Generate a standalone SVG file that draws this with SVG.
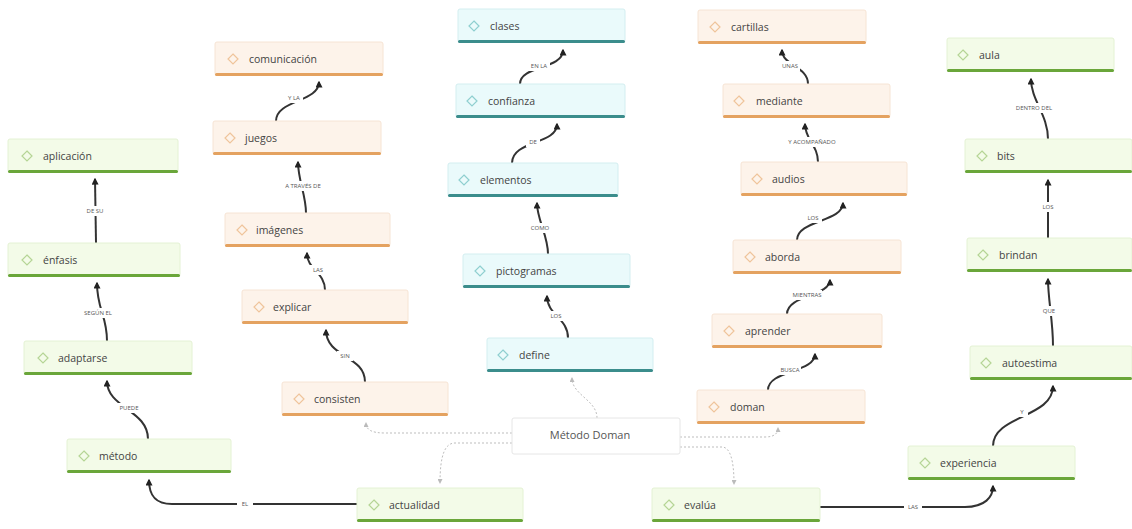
<svg xmlns="http://www.w3.org/2000/svg" width="1132" height="529" viewBox="0 0 1132 529">
<style>
.bg{fill:#ffffff}
.g rect.b{fill:#f3fbe8;stroke:#e4f2d4;stroke-width:1}
.g rect.bar{fill:#6aa63a}
.g polygon{fill:none;stroke:#b5d595;stroke-width:1.2}
.o rect.b{fill:#fdf3ea;stroke:#f6e4d4;stroke-width:1}
.o rect.bar{fill:#e4a260}
.o polygon{fill:none;stroke:#efc49b;stroke-width:1.2}
.t rect.b{fill:#eafafb;stroke:#d3eef0;stroke-width:1}
.t rect.bar{fill:#3b8d8c}
.t polygon{fill:none;stroke:#8fcfd0;stroke-width:1.2}
.n text{font-family:"Open Sans","Liberation Sans",sans-serif;font-size:10.5px;fill:#444}
.c{fill:none;stroke:#333;stroke-width:2;marker-end:url(#ah)}
.d{fill:none;stroke:#bdbdbd;stroke-width:1;stroke-dasharray:2 2;marker-end:url(#ad)}
.lb{fill:#ffffff}
.lt{font-family:"Open Sans","Liberation Sans",sans-serif;font-size:6px;fill:#555;text-anchor:middle}
.root rect{fill:#ffffff;stroke:#e6e6e6;stroke-width:1}
.root text{font-family:"Open Sans","Liberation Sans",sans-serif;font-size:11px;fill:#555;text-anchor:middle}
</style>
<defs>
<marker id="ah" viewBox="0 0 10 10" refX="8" refY="5" markerWidth="7" markerHeight="7" markerUnits="userSpaceOnUse" orient="auto">
<path d="M0,0 L10,5 L0,10 z" fill="#222"/>
</marker>
<marker id="ad" viewBox="0 0 10 10" refX="8" refY="5" markerWidth="5" markerHeight="5" markerUnits="userSpaceOnUse" orient="auto">
<path d="M0,0 L10,5 L0,10 z" fill="#bbb"/>
</marker>
</defs>
<rect class="bg" x="0" y="0" width="1132" height="529"/>

<g id="connectors">
<path class="d" d="M512,433 H385 C372,433 366,430 366,423"/>
<path class="d" d="M512,443 H455 C445,443 440,455 440,483"/>
<path class="d" d="M597,418 C597,400 572,395 572,378"/>
<path class="d" d="M680,437 H765 C775,437 778,433 778,428"/>
<path class="d" d="M680,447 H722 C730,447 734,460 734,484"/>

<path class="c" d="M357,504 H172 C155,504 149,495 149,480"/>
<path class="c" d="M148,439 C148,410 107,408 107,381"/>
<path class="c" d="M107,341 C107,315 97,310 97,283"/>
<path class="c" d="M96,243 L95,179"/>
<path class="c" d="M365,382 C365,355 326,358 326,330"/>
<path class="c" d="M325,290 C325,272 307,270 307,253"/>
<path class="c" d="M306,213 C306,195 298,180 298,162"/>
<path class="c" d="M276,121 C276,100 319,102 319,82"/>
<path class="c" d="M568,338 C568,318 547,315 547,296"/>
<path class="c" d="M548,254 C548,235 537,220 537,203"/>
<path class="c" d="M512,163 C512,140 557,145 557,124"/>
<path class="c" d="M520,84 C520,65 563,70 563,50"/>
<path class="c" d="M768,390 C768,370 815,373 815,354"/>
<path class="c" d="M787,314 C787,295 830,296 830,280"/>
<path class="c" d="M797,240 C797,220 843,222 843,203"/>
<path class="c" d="M818,162 C818,145 805,140 805,124"/>
<path class="c" d="M808,84 C808,66 782,66 782,50"/>
<path class="c" d="M820,507 H965 C985,507 993,497 993,486"/>
<path class="c" d="M993,446 C993,415 1053,418 1053,386"/>
<path class="c" d="M1053,346 C1053,320 1048,300 1048,279"/>
<path class="c" d="M1048,238 L1048,180"/>
<path class="c" d="M1048,139 C1048,115 1031,100 1031,79"/>

<rect class="lb" x="237" y="499" width="16" height="10"/><text class="lt" x="245" y="506">EL</text>
<rect class="lb" x="117" y="403" width="24" height="10"/><text class="lt" x="129" y="410">PUEDE</text>
<rect class="lb" x="84" y="308" width="28" height="10"/><text class="lt" x="98" y="315">SEGÚN EL</text>
<rect class="lb" x="84" y="206" width="22" height="10"/><text class="lt" x="95" y="213">DE SU</text>
<rect class="lb" x="337" y="351" width="16" height="10"/><text class="lt" x="345" y="358">SIN</text>
<rect class="lb" x="309" y="265" width="18" height="10"/><text class="lt" x="318" y="272">LAS</text>
<rect class="lb" x="284" y="181" width="38" height="10"/><text class="lt" x="303" y="188">A TRAVÉS DE</text>
<rect class="lb" x="285" y="93" width="18" height="10"/><text class="lt" x="294" y="100">Y LA</text>
<rect class="lb" x="547" y="311" width="18" height="10"/><text class="lt" x="556" y="318">LOS</text>
<rect class="lb" x="529" y="223" width="22" height="10"/><text class="lt" x="540" y="230">COMO</text>
<rect class="lb" x="526" y="137" width="14" height="10"/><text class="lt" x="533" y="144">DE</text>
<rect class="lb" x="528" y="61" width="22" height="10"/><text class="lt" x="539" y="68">EN LA</text>
<rect class="lb" x="779" y="365" width="22" height="10"/><text class="lt" x="790" y="372">BUSCA</text>
<rect class="lb" x="792" y="290" width="30" height="10"/><text class="lt" x="807" y="297">MIENTRAS</text>
<rect class="lb" x="804" y="213" width="18" height="10"/><text class="lt" x="813" y="220">LOS</text>
<rect class="lb" x="790" y="137" width="44" height="10"/><text class="lt" x="812" y="144">Y ACOMPAÑADO</text>
<rect class="lb" x="780" y="61" width="20" height="10"/><text class="lt" x="790" y="68">UNAS</text>
<rect class="lb" x="904" y="502" width="18" height="10"/><text class="lt" x="913" y="509">LAS</text>
<rect class="lb" x="1016" y="407" width="12" height="10"/><text class="lt" x="1022" y="414">Y</text>
<rect class="lb" x="1040" y="306" width="18" height="10"/><text class="lt" x="1049" y="313">QUE</text>
<rect class="lb" x="1039" y="202" width="18" height="10"/><text class="lt" x="1048" y="209">LOS</text>
<rect class="lb" x="1016" y="103" width="36" height="10"/><text class="lt" x="1034" y="110">DENTRO DEL</text>
</g>

<g id="root" class="root"><rect x="512" y="418" width="168" height="36" rx="2"/><text x="590" y="439">Método Doman</text></g>

<g id="n-aplicacion" class="n g"><rect class="b" x="8" y="139" width="170" height="33" rx="2"/><rect class="bar" x="8" y="170" width="170" height="3" rx="1.5"/><polygon points="27,151 32,156 27,161 22,156"/><text x="43" y="160">aplicación</text></g>
<g id="n-enfasis" class="n g"><rect class="b" x="8" y="243" width="172" height="33" rx="2"/><rect class="bar" x="8" y="274" width="172" height="3" rx="1.5"/><polygon points="27,255 32,260 27,265 22,260"/><text x="43" y="264">énfasis</text></g>
<g id="n-adaptarse" class="n g"><rect class="b" x="24" y="341" width="168" height="33" rx="2"/><rect class="bar" x="24" y="372" width="168" height="3" rx="1.5"/><polygon points="43,353 48,358 43,363 38,358"/><text x="58" y="362">adaptarse</text></g>
<g id="n-metodo" class="n g"><rect class="b" x="67" y="439" width="164" height="33" rx="2"/><rect class="bar" x="67" y="470" width="164" height="3" rx="1.5"/><polygon points="84,451 89,456 84,461 79,456"/><text x="99" y="460">método</text></g>
<g id="n-actualidad" class="n g"><rect class="b" x="357" y="488" width="166" height="33" rx="2"/><rect class="bar" x="357" y="519" width="166" height="3" rx="1.5"/><polygon points="374,500 379,505 374,510 369,505"/><text x="389" y="509">actualidad</text></g>

<g id="n-comunicacion" class="n o"><rect class="b" x="215" y="42" width="168" height="33" rx="2"/><rect class="bar" x="215" y="73" width="168" height="3" rx="1.5"/><polygon points="233,54 238,59 233,64 228,59"/><text x="249" y="63">comunicación</text></g>
<g id="n-juegos" class="n o"><rect class="b" x="213" y="121" width="168" height="33" rx="2"/><rect class="bar" x="213" y="152" width="168" height="3" rx="1.5"/><polygon points="230,133 235,138 230,143 225,138"/><text x="245" y="142">juegos</text></g>
<g id="n-imagenes" class="n o"><rect class="b" x="225" y="213" width="165" height="33" rx="2"/><rect class="bar" x="225" y="244" width="165" height="3" rx="1.5"/><polygon points="242,225 247,230 242,235 237,230"/><text x="256" y="234">imágenes</text></g>
<g id="n-explicar" class="n o"><rect class="b" x="242" y="290" width="166" height="33" rx="2"/><rect class="bar" x="242" y="321" width="166" height="3" rx="1.5"/><polygon points="259,302 264,307 259,312 254,307"/><text x="273" y="311">explicar</text></g>
<g id="n-consisten" class="n o"><rect class="b" x="282" y="382" width="166" height="33" rx="2"/><rect class="bar" x="282" y="413" width="166" height="3" rx="1.5"/><polygon points="299,394 304,399 299,404 294,399"/><text x="314" y="403">consisten</text></g>

<g id="n-clases" class="n t"><rect class="b" x="458" y="9" width="167" height="33" rx="2"/><rect class="bar" x="458" y="40" width="167" height="3" rx="1.5"/><polygon points="474,21 479,26 474,31 469,26"/><text x="490" y="30">clases</text></g>
<g id="n-confianza" class="n t"><rect class="b" x="456" y="84" width="169" height="33" rx="2"/><rect class="bar" x="456" y="115" width="169" height="3" rx="1.5"/><polygon points="472,96 477,101 472,106 467,101"/><text x="488" y="105">confianza</text></g>
<g id="n-elementos" class="n t"><rect class="b" x="448" y="163" width="170" height="33" rx="2"/><rect class="bar" x="448" y="194" width="170" height="3" rx="1.5"/><polygon points="464,175 469,180 464,185 459,180"/><text x="480" y="184">elementos</text></g>
<g id="n-pictogramas" class="n t"><rect class="b" x="463" y="254" width="167" height="33" rx="2"/><rect class="bar" x="463" y="285" width="167" height="3" rx="1.5"/><polygon points="480,266 485,271 480,276 475,271"/><text x="496" y="275">pictogramas</text></g>
<g id="n-define" class="n t"><rect class="b" x="487" y="338" width="166" height="33" rx="2"/><rect class="bar" x="487" y="369" width="166" height="3" rx="1.5"/><polygon points="503,350 508,355 503,360 498,355"/><text x="519" y="359">define</text></g>

<g id="n-cartillas" class="n o"><rect class="b" x="698" y="10" width="168" height="33" rx="2"/><rect class="bar" x="698" y="41" width="168" height="3" rx="1.5"/><polygon points="715,22 720,27 715,32 710,27"/><text x="731" y="31">cartillas</text></g>
<g id="n-mediante" class="n o"><rect class="b" x="723" y="84" width="167" height="33" rx="2"/><rect class="bar" x="723" y="115" width="167" height="3" rx="1.5"/><polygon points="739,96 744,101 739,106 734,101"/><text x="756" y="105">mediante</text></g>
<g id="n-audios" class="n o"><rect class="b" x="741" y="162" width="166" height="33" rx="2"/><rect class="bar" x="741" y="193" width="166" height="3" rx="1.5"/><polygon points="757,174 762,179 757,184 752,179"/><text x="772" y="183">audios</text></g>
<g id="n-aborda" class="n o"><rect class="b" x="733" y="240" width="168" height="33" rx="2"/><rect class="bar" x="733" y="271" width="168" height="3" rx="1.5"/><polygon points="750,252 755,257 750,262 745,257"/><text x="765" y="261">aborda</text></g>
<g id="n-aprender" class="n o"><rect class="b" x="712" y="314" width="170" height="33" rx="2"/><rect class="bar" x="712" y="345" width="170" height="3" rx="1.5"/><polygon points="729,326 734,331 729,336 724,331"/><text x="745" y="335">aprender</text></g>
<g id="n-doman" class="n o"><rect class="b" x="697" y="390" width="168" height="33" rx="2"/><rect class="bar" x="697" y="421" width="168" height="3" rx="1.5"/><polygon points="714,402 719,407 714,412 709,407"/><text x="730" y="411">doman</text></g>

<g id="n-aula" class="n g"><rect class="b" x="947" y="38" width="167" height="33" rx="2"/><rect class="bar" x="947" y="69" width="167" height="3" rx="1.5"/><polygon points="963,50 968,55 963,60 958,55"/><text x="979" y="59">aula</text></g>
<g id="n-bits" class="n g"><rect class="b" x="965" y="139" width="167" height="33" rx="2"/><rect class="bar" x="965" y="170" width="167" height="3" rx="1.5"/><polygon points="982,151 987,156 982,161 977,156"/><text x="997" y="160">bits</text></g>
<g id="n-brindan" class="n g"><rect class="b" x="967" y="238" width="165" height="33" rx="2"/><rect class="bar" x="967" y="269" width="165" height="3" rx="1.5"/><polygon points="983,250 988,255 983,260 978,255"/><text x="999" y="259">brindan</text></g>
<g id="n-autoestima" class="n g"><rect class="b" x="970" y="346" width="162" height="33" rx="2"/><rect class="bar" x="970" y="377" width="162" height="3" rx="1.5"/><polygon points="986,358 991,363 986,368 981,363"/><text x="1002" y="367">autoestima</text></g>
<g id="n-experiencia" class="n g"><rect class="b" x="908" y="446" width="167" height="33" rx="2"/><rect class="bar" x="908" y="477" width="167" height="3" rx="1.5"/><polygon points="925,458 930,463 925,468 920,463"/><text x="940" y="467">experiencia</text></g>
<g id="n-evalua" class="n g"><rect class="b" x="652" y="488" width="168" height="33" rx="2"/><rect class="bar" x="652" y="519" width="168" height="3" rx="1.5"/><polygon points="669,500 674,505 669,510 664,505"/><text x="684" y="509">evalúa</text></g>
</svg>
